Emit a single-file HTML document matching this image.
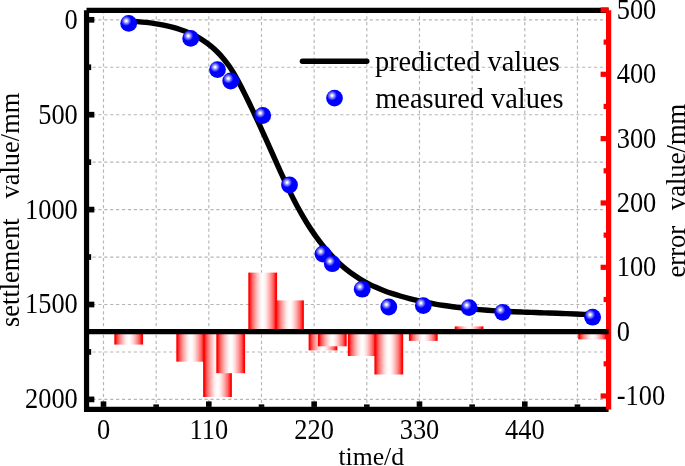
<!DOCTYPE html>
<html lang="en"><head><meta charset="utf-8"><title>settlement prediction chart</title>
<style>html,body{margin:0;padding:0;background:#fff;}body{width:685px;height:466px;overflow:hidden;}svg{display:block;}text{font-family:"Liberation Serif",serif;fill:#000;}</style></head><body>
<svg width="685" height="466" viewBox="0 0 685 466">
<defs>
<linearGradient id="bg" x1="0" y1="0" x2="1" y2="0"><stop offset="0" stop-color="#ff0000"/><stop offset="0.05" stop-color="#ff0808"/><stop offset="0.085" stop-color="#ff3434"/><stop offset="0.15" stop-color="#ff6a6a"/><stop offset="0.25" stop-color="#ffa6a6"/><stop offset="0.35" stop-color="#ffd8d8"/><stop offset="0.43" stop-color="#fff4f4"/><stop offset="0.5" stop-color="#ffffff"/><stop offset="0.57" stop-color="#fff4f4"/><stop offset="0.65" stop-color="#ffd8d8"/><stop offset="0.75" stop-color="#ffa6a6"/><stop offset="0.85" stop-color="#ff6a6a"/><stop offset="0.915" stop-color="#ff3434"/><stop offset="0.95" stop-color="#ff0808"/><stop offset="1" stop-color="#ff0000"/></linearGradient>
<radialGradient id="ball" cx="0.355" cy="0.35" r="0.30" fx="0.355" fy="0.35"><stop offset="0" stop-color="#ffffff"/><stop offset="0.12" stop-color="#ffffff"/><stop offset="0.55" stop-color="#7a7aff"/><stop offset="1" stop-color="#0000ff"/></radialGradient>
</defs>
<rect width="685" height="466" fill="#ffffff"/>
<g stroke="#b6b6b6" stroke-width="1.15" stroke-dasharray="3.2 2.7" fill="none">
<line x1="103.50" y1="10.30" x2="103.50" y2="409.40"/>
<line x1="156.16" y1="10.30" x2="156.16" y2="409.40"/>
<line x1="208.82" y1="10.30" x2="208.82" y2="409.40"/>
<line x1="261.49" y1="10.30" x2="261.49" y2="409.40"/>
<line x1="314.15" y1="10.30" x2="314.15" y2="409.40"/>
<line x1="366.81" y1="10.30" x2="366.81" y2="409.40"/>
<line x1="419.48" y1="10.30" x2="419.48" y2="409.40"/>
<line x1="472.14" y1="10.30" x2="472.14" y2="409.40"/>
<line x1="524.80" y1="10.30" x2="524.80" y2="409.40"/>
<line x1="577.46" y1="10.30" x2="577.46" y2="409.40"/>
<line x1="86.55" y1="19.80" x2="608.60" y2="19.80"/>
<line x1="86.55" y1="67.25" x2="608.60" y2="67.25"/>
<line x1="86.55" y1="114.70" x2="608.60" y2="114.70"/>
<line x1="86.55" y1="162.15" x2="608.60" y2="162.15"/>
<line x1="86.55" y1="209.60" x2="608.60" y2="209.60"/>
<line x1="86.55" y1="257.05" x2="608.60" y2="257.05"/>
<line x1="86.55" y1="304.50" x2="608.60" y2="304.50"/>
<line x1="86.55" y1="351.95" x2="608.60" y2="351.95"/>
<line x1="86.55" y1="399.40" x2="608.60" y2="399.40"/>
</g>
<g fill="url(#bg)">
<rect x="114.30" y="331.65" width="28.80" height="12.95"/>
<rect x="176.30" y="331.65" width="28.80" height="30.05"/>
<rect x="203.10" y="331.65" width="28.80" height="65.35"/>
<rect x="216.30" y="331.65" width="28.80" height="41.55"/>
<rect x="248.30" y="272.60" width="28.80" height="59.05"/>
<rect x="275.10" y="300.40" width="28.80" height="31.25"/>
<rect x="308.60" y="331.65" width="28.80" height="18.75"/>
<rect x="317.90" y="331.65" width="28.80" height="14.65"/>
<rect x="347.80" y="331.65" width="28.80" height="24.35"/>
<rect x="374.40" y="331.65" width="28.80" height="42.85"/>
<rect x="408.90" y="331.65" width="28.80" height="9.25"/>
<rect x="454.70" y="326.40" width="28.80" height="5.25"/>
<rect x="578.20" y="331.65" width="28.80" height="7.75"/>
</g>
<path d="M128.80,21.04 C130.21,21.13 134.41,21.35 137.27,21.57 C140.13,21.79 143.04,22.05 145.95,22.38 C148.86,22.71 151.80,23.09 154.73,23.55 C157.66,24.01 160.61,24.52 163.53,25.12 C166.45,25.72 169.38,26.39 172.25,27.16 C175.12,27.93 177.98,28.77 180.78,29.73 C183.58,30.69 186.35,31.74 189.04,32.90 C191.73,34.06 194.37,35.32 196.92,36.71 C199.47,38.10 201.95,39.61 204.34,41.23 C206.73,42.85 209.03,44.60 211.25,46.44 C213.47,48.28 215.59,50.24 217.63,52.28 C219.67,54.32 221.62,56.46 223.47,58.67 C225.32,60.88 227.09,63.20 228.76,65.56 C230.43,67.92 232.00,70.38 233.51,72.86 C235.02,75.34 236.45,77.90 237.85,80.47 C239.25,83.04 240.59,85.66 241.92,88.27 C243.25,90.88 244.55,93.51 245.85,96.14 C247.15,98.77 248.43,101.40 249.70,104.04 C250.97,106.68 252.22,109.32 253.47,111.97 C254.72,114.62 255.95,117.27 257.18,119.93 C258.41,122.59 259.62,125.25 260.84,127.91 C262.05,130.57 263.27,133.24 264.47,135.91 C265.67,138.58 266.87,141.25 268.06,143.92 C269.25,146.59 270.45,149.26 271.64,151.93 C272.83,154.60 274.03,157.28 275.22,159.95 C276.41,162.62 277.60,165.30 278.80,167.97 C280.00,170.64 281.21,173.31 282.43,175.97 C283.65,178.63 284.87,181.29 286.11,183.94 C287.36,186.59 288.61,189.23 289.90,191.86 C291.19,194.49 292.49,197.11 293.83,199.71 C295.17,202.31 296.52,204.91 297.92,207.48 C299.32,210.05 300.74,212.62 302.21,215.16 C303.68,217.70 305.18,220.22 306.73,222.71 C308.28,225.21 309.87,227.69 311.51,230.13 C313.15,232.57 314.83,235.00 316.56,237.37 C318.29,239.75 320.07,242.09 321.90,244.38 C323.73,246.67 325.60,248.93 327.53,251.13 C329.46,253.33 331.44,255.47 333.47,257.56 C335.50,259.64 337.58,261.68 339.72,263.64 C341.86,265.60 344.06,267.51 346.31,269.33 C348.56,271.15 350.86,272.89 353.22,274.56 C355.58,276.23 358.01,277.82 360.49,279.32 C362.97,280.82 365.52,282.23 368.10,283.56 C370.69,284.89 373.32,286.14 376.00,287.32 C378.68,288.50 381.40,289.61 384.15,290.66 C386.90,291.71 389.69,292.68 392.49,293.61 C395.29,294.54 398.12,295.41 400.95,296.23 C403.78,297.06 406.65,297.82 409.50,298.56 C412.35,299.30 415.21,299.99 418.07,300.64 C420.93,301.29 423.81,301.90 426.68,302.48 C429.55,303.06 432.43,303.60 435.31,304.11 C438.19,304.62 441.07,305.09 443.96,305.54 C446.85,305.99 449.74,306.40 452.63,306.79 C455.52,307.18 458.42,307.53 461.32,307.86 C464.22,308.19 467.12,308.50 470.03,308.79 C472.94,309.08 475.85,309.33 478.76,309.58 C481.67,309.82 484.58,310.05 487.50,310.26 C490.42,310.47 493.33,310.65 496.25,310.83 C499.17,311.00 502.09,311.16 505.01,311.31 C507.93,311.46 510.85,311.59 513.78,311.72 C516.70,311.85 519.63,311.97 522.56,312.08 C525.49,312.19 528.41,312.30 531.34,312.40 C534.27,312.50 537.19,312.59 540.12,312.69 C543.05,312.79 545.98,312.88 548.91,312.98 C551.84,313.08 554.77,313.18 557.70,313.28 C560.63,313.38 563.55,313.49 566.48,313.60 C569.41,313.72 572.34,313.84 575.26,313.97 C578.18,314.10 581.11,314.24 584.03,314.39 C586.95,314.54 591.34,314.80 592.80,314.88" fill="none" stroke="#000" stroke-width="5.4" stroke-linecap="round" stroke-linejoin="round"/>
<g fill="url(#ball)">
<circle cx="128.70" cy="23.40" r="8.4"/>
<circle cx="190.70" cy="38.40" r="8.4"/>
<circle cx="217.50" cy="69.60" r="8.4"/>
<circle cx="230.70" cy="81.00" r="8.4"/>
<circle cx="262.70" cy="115.50" r="8.4"/>
<circle cx="289.50" cy="185.00" r="8.4"/>
<circle cx="323.00" cy="254.00" r="8.4"/>
<circle cx="332.30" cy="263.70" r="8.4"/>
<circle cx="362.20" cy="289.20" r="8.4"/>
<circle cx="388.80" cy="307.00" r="8.4"/>
<circle cx="423.30" cy="305.60" r="8.4"/>
<circle cx="469.10" cy="307.60" r="8.4"/>
<circle cx="502.70" cy="312.30" r="8.4"/>
<circle cx="592.60" cy="317.20" r="8.4"/>
</g>
<g stroke="#000" stroke-width="5.2" fill="none">
<line x1="86.55" y1="10.30" x2="608.60" y2="10.30"/>
<line x1="86.55" y1="10.30" x2="86.55" y2="411.90"/>
<line x1="84.05" y1="409.40" x2="608.60" y2="409.40"/>
<line x1="89.05" y1="19.80" x2="94.35" y2="19.80" stroke-width="5.7"/>
<line x1="89.05" y1="67.25" x2="91.15" y2="67.25" stroke-width="5.7"/>
<line x1="89.05" y1="114.70" x2="94.35" y2="114.70" stroke-width="5.7"/>
<line x1="89.05" y1="162.15" x2="91.15" y2="162.15" stroke-width="5.7"/>
<line x1="89.05" y1="209.60" x2="94.35" y2="209.60" stroke-width="5.7"/>
<line x1="89.05" y1="257.05" x2="91.15" y2="257.05" stroke-width="5.7"/>
<line x1="89.05" y1="304.50" x2="94.35" y2="304.50" stroke-width="5.7"/>
<line x1="89.05" y1="351.95" x2="91.15" y2="351.95" stroke-width="5.7"/>
<line x1="89.05" y1="399.40" x2="94.35" y2="399.40" stroke-width="5.7"/>
<line x1="103.50" y1="406.90" x2="103.50" y2="401.40" stroke-width="5.6"/>
<line x1="156.16" y1="406.90" x2="156.16" y2="404.40" stroke-width="5.6"/>
<line x1="208.82" y1="406.90" x2="208.82" y2="401.40" stroke-width="5.6"/>
<line x1="261.49" y1="406.90" x2="261.49" y2="404.40" stroke-width="5.6"/>
<line x1="314.15" y1="406.90" x2="314.15" y2="401.40" stroke-width="5.6"/>
<line x1="366.81" y1="406.90" x2="366.81" y2="404.40" stroke-width="5.6"/>
<line x1="419.48" y1="406.90" x2="419.48" y2="401.40" stroke-width="5.6"/>
<line x1="472.14" y1="406.90" x2="472.14" y2="404.40" stroke-width="5.6"/>
<line x1="524.80" y1="406.90" x2="524.80" y2="401.40" stroke-width="5.6"/>
<line x1="577.46" y1="406.90" x2="577.46" y2="404.40" stroke-width="5.6"/>
</g>
<g stroke="#ff0000" stroke-width="5.2" fill="none">
<line x1="608.60" y1="10.30" x2="608.60" y2="409.40"/>
<line x1="608.60" y1="395.99" x2="600.60" y2="395.99"/>
<line x1="608.60" y1="363.82" x2="603.60" y2="363.82"/>
<line x1="608.60" y1="331.65" x2="600.60" y2="331.65"/>
<line x1="608.60" y1="299.48" x2="603.60" y2="299.48"/>
<line x1="608.60" y1="267.31" x2="600.60" y2="267.31"/>
<line x1="608.60" y1="235.14" x2="603.60" y2="235.14"/>
<line x1="608.60" y1="202.97" x2="600.60" y2="202.97"/>
<line x1="608.60" y1="170.80" x2="603.60" y2="170.80"/>
<line x1="608.60" y1="138.63" x2="600.60" y2="138.63"/>
<line x1="608.60" y1="106.46" x2="603.60" y2="106.46"/>
<line x1="608.60" y1="74.29" x2="600.60" y2="74.29"/>
<line x1="608.60" y1="42.12" x2="603.60" y2="42.12"/>
<line x1="608.60" y1="9.95" x2="600.60" y2="9.95"/>
</g>
<line x1="86.55" y1="331.65" x2="608.60" y2="331.65" stroke="#000" stroke-width="5.1"/>
<g opacity="0.999">
<text transform="translate(77.80,28.70) scale(0.895,1)" font-size="29.5" text-anchor="end">0</text>
<text transform="translate(77.80,123.60) scale(0.895,1)" font-size="29.5" text-anchor="end">500</text>
<text transform="translate(77.80,218.50) scale(0.895,1)" font-size="29.5" text-anchor="end">1000</text>
<text transform="translate(77.80,313.40) scale(0.895,1)" font-size="29.5" text-anchor="end">1500</text>
<text transform="translate(77.80,408.30) scale(0.895,1)" font-size="29.5" text-anchor="end">2000</text>
<text transform="translate(103.50,439.40) scale(0.895,1)" font-size="29.5" text-anchor="middle">0</text>
<text transform="translate(208.82,439.40) scale(0.895,1)" font-size="29.5" text-anchor="middle">110</text>
<text transform="translate(314.15,439.40) scale(0.895,1)" font-size="29.5" text-anchor="middle">220</text>
<text transform="translate(419.48,439.40) scale(0.895,1)" font-size="29.5" text-anchor="middle">330</text>
<text transform="translate(524.80,439.40) scale(0.895,1)" font-size="29.5" text-anchor="middle">440</text>
<text transform="translate(616.70,404.89) scale(0.895,1)" font-size="29.5" text-anchor="start">-100</text>
<text transform="translate(616.70,340.55) scale(0.895,1)" font-size="29.5" text-anchor="start">0</text>
<text transform="translate(616.70,276.21) scale(0.895,1)" font-size="29.5" text-anchor="start">100</text>
<text transform="translate(616.70,211.87) scale(0.895,1)" font-size="29.5" text-anchor="start">200</text>
<text transform="translate(616.70,147.53) scale(0.895,1)" font-size="29.5" text-anchor="start">300</text>
<text transform="translate(616.70,83.19) scale(0.895,1)" font-size="29.5" text-anchor="start">400</text>
<text transform="translate(616.70,18.85) scale(0.895,1)" font-size="29.5" text-anchor="start">500</text>
<text transform="translate(371.20,465.10) scale(1.000,1)" font-size="25.7" text-anchor="middle">time/d</text>
<text transform="translate(19.4,327.0) rotate(-90) scale(0.966,1)" font-size="27.4" text-anchor="start" xml:space="preserve">settlement   value/mm</text>
<text transform="translate(685.0,277.5) rotate(-90) scale(0.972,1)" font-size="27.4" text-anchor="start" xml:space="preserve">error  <tspan dx="2.4">value/mm</tspan></text>
<line x1="302.4" y1="61.3" x2="366.8" y2="61.3" stroke="#000" stroke-width="5.4" stroke-linecap="round"/>
<circle cx="334.5" cy="98.1" r="8.4" fill="url(#ball)"/>
<text transform="translate(374.90,71.10) scale(0.978,1)" font-size="29.0" text-anchor="start">predicted values</text>
<text transform="translate(375.30,107.80) scale(0.978,1)" font-size="29.0" text-anchor="start">measured values</text>
</g>
</svg></body></html>
